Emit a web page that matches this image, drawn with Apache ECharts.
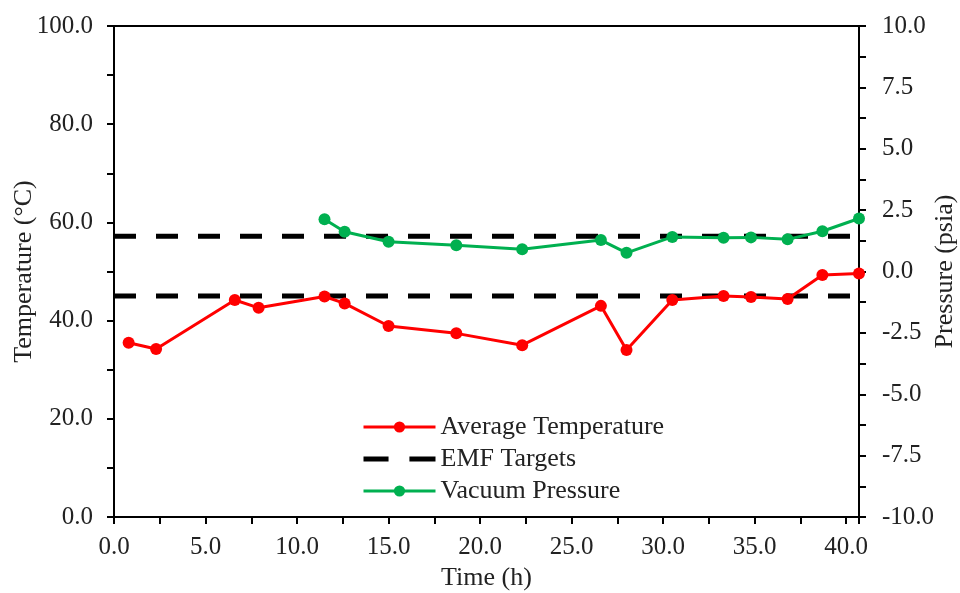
<!DOCTYPE html>
<html>
<head>
<meta charset="utf-8">
<script src="https://cdn.jsdelivr.net/npm/echarts@6/dist/echarts.min.js"></script>
<style>html,body{margin:0;padding:0;background:#fff}#c{width:960px;height:593px}</style>
</head>
<body>
<div id="c"></div>
<script>
const tempTime = [0.8, 2.3, 6.6, 7.9, 11.5, 12.6, 15.0, 18.7, 22.3, 26.6, 28.0, 30.5, 33.3, 34.8, 36.8, 38.7, 40.7];
const avgTemp  = [35.5, 34.2, 44.2, 42.6, 44.9, 43.5, 38.9, 37.4, 35.0, 43.0, 34.0, 44.2, 45.0, 44.8, 44.4, 49.3, 49.6];
const presTime = [11.5, 12.6, 15.0, 18.7, 22.3, 26.6, 28.0, 30.5, 33.3, 34.8, 36.8, 38.7, 40.7];
const vacPres  = [2.13, 1.62, 1.21, 1.07, 0.91, 1.28, 0.76, 1.41, 1.37, 1.39, 1.31, 1.64, 2.16];
const emfTargets = [45.0, 57.2];
const targetSpan = [0, 40.7];
const seriesNames = ['Average Temperature', 'EMF Targets', 'Vacuum Pressure'];

const FONT = "'Liberation Serif','Times New Roman',serif";
const chart = echarts.init(document.getElementById('c'), null, {renderer: 'canvas'});
const axisLine = {show: true, onZero: false, lineStyle: {color: '#000', width: 2}};
const axisTick = {show: true, inside: false, length: 7, lineStyle: {color: '#000', width: 2}};
const txt = {color: '#222', fontFamily: FONT, fontSize: 25};
const fmt = (step) => (v) => (Math.abs(v / step - Math.round(v / step)) < 1e-6 ? v.toFixed(1) : '');

const series = [];
emfTargets.forEach((t) => {
  series.push({
    name: seriesNames[1], type: 'line', yAxisIndex: 0, z: 1,
    data: targetSpan.map(x => [x, t]),
    showSymbol: false, symbol: 'none',
    lineStyle: {color: '#000', width: 5, type: [22, 20]},
    itemStyle: {color: '#000'},
    silent: true, animation: false
  });
});
series.push({
  name: seriesNames[0], type: 'line', yAxisIndex: 0, z: 3, clip: false,
  data: tempTime.map((x, i) => [x, avgTemp[i]]),
  symbol: 'circle', symbolSize: 12,
  lineStyle: {color: '#ff0000', width: 3},
  itemStyle: {color: '#ff0000'}, animation: false
});
series.push({
  name: seriesNames[2], type: 'line', yAxisIndex: 1, z: 3, clip: false,
  data: presTime.map((x, i) => [x, vacPres[i]]),
  symbol: 'circle', symbolSize: 12,
  lineStyle: {color: '#00b050', width: 3},
  itemStyle: {color: '#00b050'}, animation: false
});

chart.setOption({
  backgroundColor: '#fff',
  animation: false,
  grid: {left: 114, right: 101, top: 26, bottom: 76, containLabel: false, outerBoundsMode: 'none',
         show: true, borderColor: '#000', borderWidth: 2, backgroundColor: 'transparent'},
  legend: {
    data: [
      {name: seriesNames[0], lineStyle: {width: 3}},
      {name: seriesNames[1], icon: 'path://M0,0h24v5h-24z M44,0h25v5h-25z',
       itemStyle: {color: '#000', borderWidth: 0, opacity: 1}, lineStyle: {opacity: 0, width: 0}},
      {name: seriesNames[2], lineStyle: {width: 3}}
    ],
    orient: 'vertical', left: 357, top: 409,
    itemWidth: 72, itemHeight: 14, itemGap: 6,
    textStyle: {color: '#222', fontFamily: FONT, fontSize: 26}
  },
  xAxis: {
    type: 'value', min: 0, max: 40.7, interval: 2.5,
    name: 'Time (h)', nameLocation: 'middle', nameGap: 48, nameMoveOverlap: false,
    nameTextStyle: {color: '#222', fontFamily: FONT, fontSize: 26},
    axisLine, axisTick, splitLine: {show: false},
    axisLabel: Object.assign({margin: 18, formatter: fmt(5)}, txt)
  },
  yAxis: [{
    type: 'value', min: 0, max: 100, interval: 10, position: 'left',
    name: 'Temperature (°C)', nameLocation: 'middle', nameGap: 77, nameMoveOverlap: false,
    nameTextStyle: {color: '#222', fontFamily: FONT, fontSize: 26},
    axisLine, axisTick, splitLine: {show: false},
    axisLabel: Object.assign({margin: 21, formatter: fmt(20)}, txt)
  }, {
    type: 'value', min: -10, max: 10, interval: 1.25, position: 'right',
    name: 'Pressure (psia)', nameLocation: 'middle', nameGap: 73, nameRotate: 90, nameMoveOverlap: false,
    nameTextStyle: {color: '#222', fontFamily: FONT, fontSize: 26},
    axisLine, axisTick, splitLine: {show: false},
    axisLabel: Object.assign({margin: 23, formatter: fmt(2.5)}, txt)
  }],
  series
});
</script>
</body>
</html>
